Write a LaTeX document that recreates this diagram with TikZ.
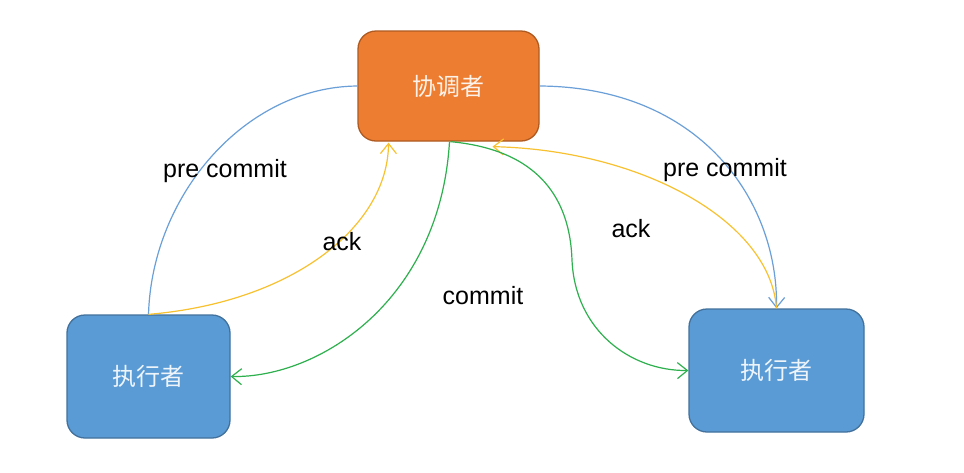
\documentclass[tikz,border=0pt]{standalone}
\usepackage{fontspec}
\setmainfont{Liberation Sans}
\newfontfamily\cjk{Noto Sans CJK SC}
\usetikzlibrary{arrows.meta}
\definecolor{orfill}{HTML}{ED7D31}
\definecolor{ordraw}{HTML}{AE5A21}
\definecolor{blfill}{HTML}{5B9BD5}
\definecolor{bldraw}{HTML}{41719C}
\definecolor{bline}{HTML}{6A9FD8}
\definecolor{yline}{HTML}{F8C130}
\definecolor{gline}{HTML}{2DB04D}
\tikzset{
  box/.style={draw, line width=1.3pt, rounded corners=18pt, inner sep=0pt,
    font=\cjk\fontsize{24}{28}\selectfont, text=white, text opacity=0.9},
  conn/.style={line width=1.2pt},
  tip/.style={-{Straight Barb[length=10pt,width=16pt,line width=1.2pt]}},
  lab/.style={font=\fontsize{25}{29}\selectfont, text=black, inner sep=1pt}
}
\begin{document}
\begin{tikzpicture}[x=1pt,y=-1pt]
\useasboundingbox[fill=white] (0,0) rectangle (964,472);
\node[box, fill=orfill, draw=ordraw, minimum width=181pt, minimum height=110pt] (top) at (448.5,86) {协调者};
\node[box, fill=blfill, draw=bldraw, minimum width=163pt, minimum height=123pt] (left) at (148.5,376.5) {执行者};
\node[box, fill=blfill, draw=bldraw, minimum width=175pt, minimum height=123pt] (right) at (776.5,370.5) {执行者};

% blue: pre commit
\draw[conn, bline] (top.west) .. controls (245,87) and (152,195) .. (left.north);
\draw[conn, bline, tip] (top.east) .. controls (700,87) and (778,200) .. (right.north);
% yellow: ack
\draw[conn, yline, tip] (left.north) .. controls (295,302) and (388,225) .. ([xshift=-60pt,yshift=-1pt]top.south);
\draw[conn, yline, tip] (right.north) .. controls (770,220) and (640,150) .. ([xshift=44pt,yshift=-5pt]top.south);
% green: commit
\draw[conn, gline, tip] ([xshift=1pt]top.south) .. controls (440,300) and (320,378) .. (left.east);
\draw[conn, gline, tip] ([xshift=2pt]top.south) .. controls (540,150) and (570,200) .. (572,260) .. controls (575,330) and (630,371) .. (right.west);

\node[lab] (l1) at (225,171) {pre commit};
\node[lab] (l2) at (342,242) {ack};
\node[lab] (l3) at (483,296) {commit};
\node[lab] (l4) at (631,229) {ack};
\node[lab] (l5) at (725,170) {pre commit};
\end{tikzpicture}
\end{document}
